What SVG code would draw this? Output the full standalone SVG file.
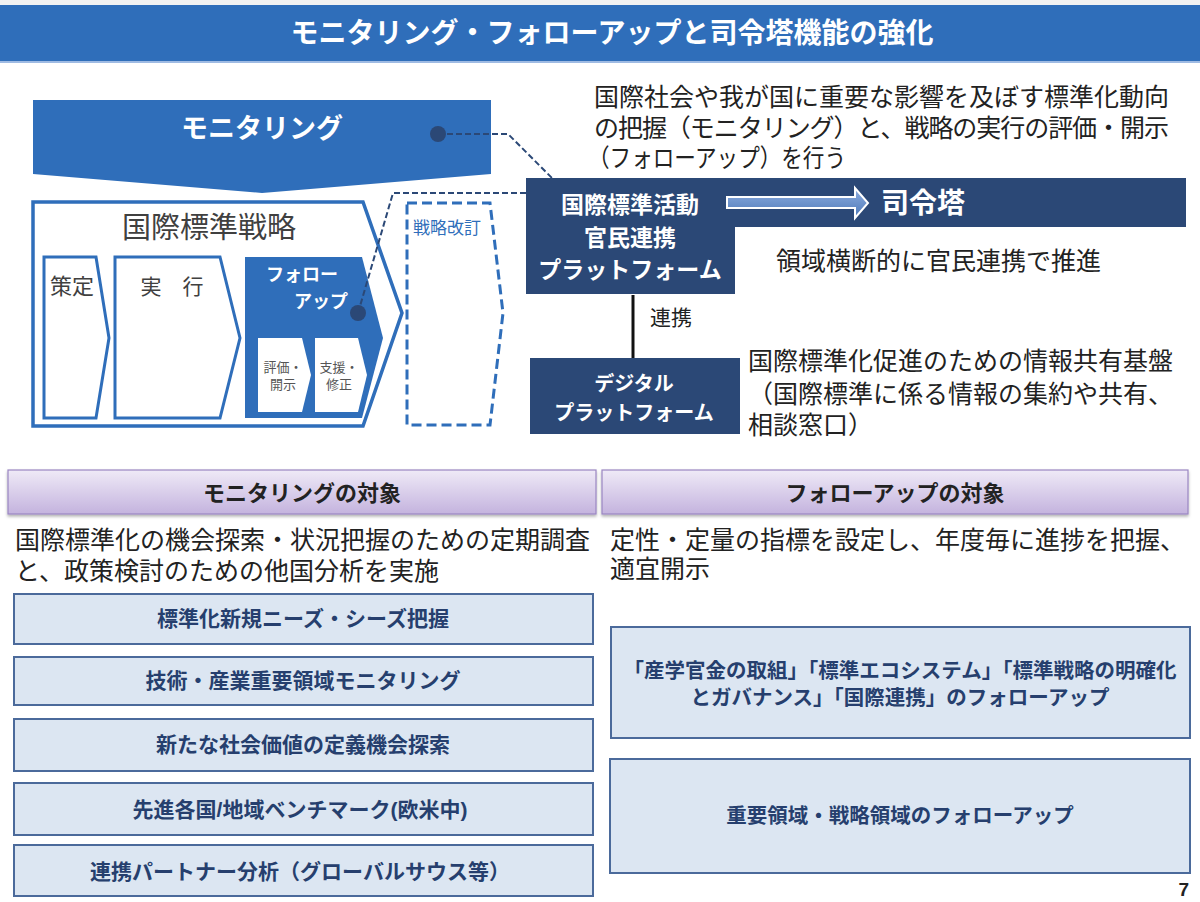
<svg xmlns="http://www.w3.org/2000/svg" width="1200" height="902" viewBox="0 0 1200 902">
<defs>
<style>
text{font-family:"Liberation Sans","Noto Sans CJK JP",sans-serif;}
.b{font-weight:bold;}
.w{fill:#ffffff;}
.k{fill:#222222;}
.nv{fill:#263f6e;}
.blueFill{fill:#2f6eba;}
.navy{fill:#2b4876;}
.conn{fill:none;stroke:#2b4876;stroke-width:2;stroke-dasharray:6 3;}
.tbox{fill:#dce6f2;stroke:#4b6a9b;stroke-width:2;}
.hdr{fill:url(#pg);stroke:#9a86c2;stroke-width:1.2;filter:url(#sh);}
</style>
<linearGradient id="pg" x1="0" y1="0" x2="0" y2="1">
<stop offset="0" stop-color="#efeaf7"/>
<stop offset="1" stop-color="#c4b3de"/>
</linearGradient>
<linearGradient id="ag" x1="0" y1="0" x2="0" y2="1">
<stop offset="0" stop-color="#8eaee0"/>
<stop offset="1" stop-color="#4c78b8"/>
</linearGradient>
<filter id="sh" x="-5%" y="-20%" width="110%" height="160%">
<feDropShadow dx="0" dy="2" stdDeviation="1.5" flood-color="#000" flood-opacity="0.3"/>
</filter>
</defs>

<rect x="0" y="0" width="1200" height="902" fill="#ffffff"/>

<g id="title">
<rect x="0" y="0" width="1200" height="5" fill="#f2f2f2"/>
<rect x="0" y="5" width="1200" height="56" class="blueFill"/>
<rect x="0" y="61" width="1200" height="2" fill="#9fbbe3"/>
<text x="612" y="43" text-anchor="middle" font-size="28" class="b w">モニタリング・フォローアップと司令塔機能の強化</text>
</g>

<g id="monitoring">
<path d="M33,100 H491 V174 L262,193 L33,174 Z" class="blueFill"/>
<text x="262" y="138" text-anchor="middle" font-size="27" class="b w">モニタリング</text>
<circle cx="438" cy="134" r="8" class="navy"/>
</g>

<g id="strategy">
<path d="M33,202 H363 L402,313 L363,426 H33 Z" fill="#ffffff" stroke="#2f6eba" stroke-width="3.5"/>
<text x="209" y="238" text-anchor="middle" font-size="29" fill="#404040">国際標準戦略</text>
</g>

<g id="sakutei">
<path d="M44,257 H96 L109,338 L96,418 H44 Z" fill="#ffffff" stroke="#2f6eba" stroke-width="3"/>
<text x="72" y="294" text-anchor="middle" font-size="22" fill="#404040">策定</text>
</g>

<g id="jikko">
<path d="M115,257 H220 L240,338 L220,418 H115 Z" fill="#ffffff" stroke="#2f6eba" stroke-width="3"/>
<text x="172" y="294" text-anchor="middle" font-size="21" fill="#404040">実　行</text>
</g>

<g id="followup">
<path d="M245,257 H362 L383,338 L362,418 H245 Z" class="blueFill"/>
<text x="302" y="281" text-anchor="middle" font-size="18" class="b w">フォロー</text>
<text x="321" y="308" text-anchor="middle" font-size="18" class="b w">アップ</text>
<circle cx="358" cy="313" r="8" class="navy"/>
</g>

<g id="hyouka">
<path d="M258,338 H302 L311,375 L302,412 H258 Z" fill="#ffffff"/>
<text text-anchor="middle" font-size="13" fill="#555555"><tspan x="283" y="372">評価・</tspan><tspan x="283" y="389">開示</tspan></text>
</g>

<g id="shien">
<path d="M315,338 H358 L367,375 L358,412 H315 Z" fill="#ffffff"/>
<text text-anchor="middle" font-size="13" fill="#555555"><tspan x="339" y="372">支援・</tspan><tspan x="339" y="389">修正</tspan></text>
</g>

<g id="kaitei">
<path d="M407,203 H490 L503,313 L490,425 H407 Z" fill="none" stroke="#2f6eba" stroke-width="3" stroke-dasharray="10 5"/>
<text x="413" y="234" font-size="17" fill="#2f6eba">戦略改訂</text>
</g>

<g id="connectors">
<path d="M438,134 H508 L552,178" class="conn"/>
<path d="M358,313 L393,193 H526" class="conn"/>
<line x1="633" y1="295" x2="633" y2="358" stroke="#111111" stroke-width="3"/>
</g>

<g id="platform">
<path d="M526,178 H1186 V227 H735 V294 H526 Z" class="navy"/>
<path d="M727,197 H855 V188 L868,203 L855,218 V208 H727 Z" fill="url(#ag)" stroke="#ffffff" stroke-width="2"/>
<text text-anchor="middle" font-size="23" class="b w"><tspan x="630" y="213">国際標準活動</tspan><tspan x="630" y="246">官民連携</tspan><tspan x="630" y="278">プラットフォーム</tspan></text>
<text x="881" y="213" font-size="28" class="b w">司令塔</text>
</g>

<g id="digital">
<rect x="530" y="358" width="210" height="76" class="navy"/>
<text text-anchor="middle" font-size="20" class="b w"><tspan x="634" y="391">デジタル</tspan><tspan x="634" y="420">プラットフォーム</tspan></text>
</g>

<g id="texts-top">
<text font-size="25" class="k"><tspan x="594" y="106">国際社会や我が国に重要な影響を及ぼす標準化動向</tspan><tspan x="594" y="137" textLength="575" lengthAdjust="spacing">の把握（モニタリング）と、戦略の実行の評価・開示</tspan><tspan x="588" y="167" textLength="258" lengthAdjust="spacingAndGlyphs">（フォローアップ）を行う</tspan></text>
<text x="776" y="270" font-size="25" class="k">領域横断的に官民連携で推進</text>
<text x="650" y="325" font-size="21" class="k">連携</text>
<text font-size="25" class="k"><tspan x="748" y="370">国際標準化促進のための情報共有基盤</tspan><tspan x="748" y="403">（国際標準に係る情報の集約や共有、</tspan><tspan x="748" y="434">相談窓口）</tspan></text>
</g>

<g id="mon-header">
<rect x="8" y="470" width="588" height="44" class="hdr"/>
<text x="302" y="501" text-anchor="middle" font-size="22" class="b k">モニタリングの対象</text>
</g>

<g id="fu-header">
<rect x="602" y="470" width="586" height="44" class="hdr"/>
<text x="895" y="501" text-anchor="middle" font-size="22" class="b k">フォローアップの対象</text>
</g>

<g id="paras">
<text font-size="25" class="k"><tspan x="15" y="549">国際標準化の機会探索・状況把握のための定期調査</tspan><tspan x="15" y="580">と、政策検討のための他国分析を実施</tspan></text>
<text font-size="25" class="k"><tspan x="610" y="549">定性・定量の指標を設定し、年度毎に進捗を把握、</tspan><tspan x="610" y="578">適宜開示</tspan></text>
</g>

<g id="m1">
<rect x="14" y="594" width="579" height="50" class="tbox"/>
<text x="303" y="626" text-anchor="middle" font-size="21" class="b nv">標準化新規ニーズ・シーズ把握</text>
</g>
<g id="m2">
<rect x="14" y="657" width="579" height="48" class="tbox"/>
<text x="303" y="688" text-anchor="middle" font-size="21" class="b nv">技術・産業重要領域モニタリング</text>
</g>
<g id="m3">
<rect x="14" y="719" width="579" height="52" class="tbox"/>
<text x="303" y="752" text-anchor="middle" font-size="21" class="b nv">新たな社会価値の定義機会探索</text>
</g>
<g id="m4">
<rect x="14" y="783" width="579" height="52" class="tbox"/>
<text x="300" y="817" text-anchor="middle" font-size="21" class="b nv">先進各国/地域ベンチマーク(欧米中)</text>
</g>
<g id="m5">
<rect x="14" y="845" width="579" height="51" class="tbox"/>
<text x="300" y="879" text-anchor="middle" font-size="21" class="b nv">連携パートナー分析（グローバルサウス等）</text>
</g>

<g id="f1">
<rect x="611" y="627" width="579" height="111" class="tbox"/>
<text text-anchor="middle" font-size="20.5" class="b nv"><tspan x="900" y="678">「産学官金の取組」「標準エコシステム」「標準戦略の明確化</tspan><tspan x="900" y="705">とガバナンス」「国際連携」のフォローアップ</tspan></text>
</g>
<g id="f2">
<rect x="610" y="759" width="580" height="114" class="tbox"/>
<text x="900" y="823" text-anchor="middle" font-size="20.5" class="b nv">重要領域・戦略領域のフォローアップ</text>
</g>

<text x="1189" y="896" text-anchor="end" font-size="19" class="b k">7</text>
</svg>
